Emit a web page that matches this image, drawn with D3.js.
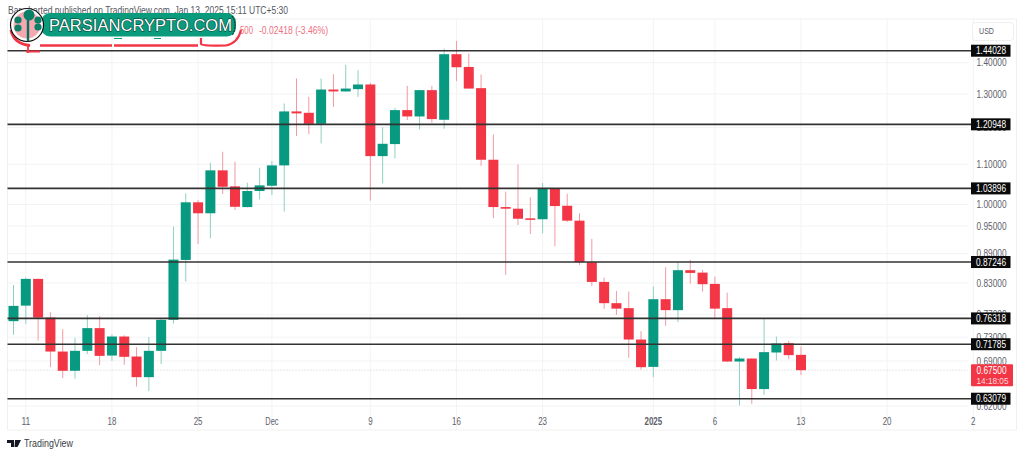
<!DOCTYPE html>
<html><head><meta charset="utf-8">
<script src="https://cdn.jsdelivr.net/npm/d3@7"></script>
<style>html,body{margin:0;padding:0;background:#fff;overflow:hidden}svg{display:block}text{font-family:"Liberation Sans",Arial,sans-serif}</style>
</head><body><svg id="c" width="1024" height="456"></svg>
<script>
// one candle per day, starting 10 Nov 2024
const opens  = [.7582,.7867,.8382,.7646,.7055,.6740,.7067,.7458,.6988,.7311,.6972,.6639,.7067,.7606,.8768,1.0052,.9794,1.0844,1.0440,.9939,1.0325,1.0455,1.0972,1.2471,1.2430,1.2110,1.3136,1.3076,1.3148,1.3294,1.1216,1.1541,1.2510,1.2323,1.3117,1.2226,1.4284,1.3859,1.3179,1.1120,.9939,.9901,.9677,.9656,1.0392,.9970,.9624,.8720,.8322,.7913,.7820,.7259,.6803,.7988,.7783,.8557,.8508,.8283,.7820,.6890,.6939,.6454,.7039,.7196,.7000];
const highs  = [.8263,.8408,.8385,.7745,.7440,.7288,.7690,.7677,.7352,.7334,.7129,.7300,.7624,.9487,1.0269,1.0107,1.1041,1.1332,1.1068,1.0530,1.0912,1.1086,1.2709,1.3485,1.2908,1.3485,1.3623,1.3927,1.3754,1.3345,1.2014,1.2576,1.3250,1.3133,1.3250,1.4476,1.4742,1.4308,1.3614,1.1809,1.0309,1.0999,1.0172,1.0523,1.0399,1.0259,.9794,.9216,.8408,.8147,.8133,.7405,.8229,.8616,.8726,.8768,.8563,.8427,.8114,.6962,.6943,.7619,.7311,.7237,.7142];
const lows   = [.7340,.7534,.7242,.6798,.6623,.6614,.7012,.6831,.6902,.6836,.6493,.6423,.6847,.7539,.8329,.9107,.9229,1.0252,.9871,.9930,1.0122,1.0227,.9831,1.1762,1.1818,1.1560,1.2605,1.3070,1.2908,1.0090,1.0515,1.1154,1.2217,1.1951,1.2139,1.1968,1.3399,1.3160,1.0962,.9677,.8461,.9525,.9325,.9341,.9057,.9594,.8664,.8243,.7806,.7696,.6951,.6761,.6639,.7498,.7565,.8289,.8133,.7619,.6880,.6207,.6232,.6366,.6907,.6929,.6671];
const closes = [.7862,.8382,.7646,.7055,.6740,.7067,.7458,.6983,.7311,.6967,.6639,.7067,.7606,.8774,1.0052,.9794,1.0844,1.0430,.9946,1.0325,1.0464,1.0972,1.2471,1.2412,1.2110,1.3136,1.3076,1.3166,1.3294,1.1216,1.1549,1.2510,1.2323,1.3117,1.2246,1.4284,1.3849,1.3166,1.1120,.9939,.9901,.9668,.9647,1.0392,.9963,.9624,.8720,.8322,.7913,.7811,.7259,.6798,.7988,.7783,.8557,.8502,.8277,.7811,.6890,.6939,.6454,.7045,.7190,.6995,.6750];
const priceTicks = [1.4,1.3,1.2,1.1,1.0,.95,.89,.83,.77,.73,.69,.62];
const levels = [1.44028,1.20948,1.03896,.87246,.76318,.71785,.63079];
const dateTicks = [[1,"11"],[8,"18"],[15,"25"],[21,"Dec"],[29,"9"],[36,"16"],[43,"23"],[52,"2025"],[57,"6"],[64,"13"],[71,"20"],[78,"2"]];
const lastPrice = .675;
const header = "Bar-charted published on TradingView.com, Jan 13, 2025 15:11 UTC+5:30";
const change = "-0.02418 (-3.46%)";
const brand = "PARSIANCRYPTO.COM";

const UP="#089981", DOWN="#f23645", UPW="#8fd0c2", DOWNW="#f29aa3";
const svg=d3.select("#c");
const x=d3.scaleLinear().domain([0,64]).range([13.5,801]);
const y=d3.scaleLog().domain([1,.62]).range([204.5,406]);
const L=7.5,R=968,T=19,B=430;
const squeeze=(s,w)=>s.attr("textLength",w).attr("lengthAdjust","spacingAndGlyphs");

svg.append("rect").attr("x",L).attr("y",T).attr("width",1016.5-L).attr("height",B-T).attr("fill","none").attr("stroke","#f0f0f0");
const g=svg.append("g").attr("stroke","#f2f3f5");
g.selectAll(".h").data(priceTicks).join("line").attr("x1",L).attr("x2",R).attr("y1",d=>y(d)).attr("y2",d=>y(d));
g.selectAll(".v").data(dateTicks).join("line").attr("x1",d=>x(d[0])).attr("x2",d=>x(d[0])).attr("y1",T).attr("y2",B);
svg.append("line").attr("x1",L).attr("x2",R).attr("y1",y(lastPrice)).attr("y2",y(lastPrice)).attr("stroke","#cfcfcf").attr("stroke-dasharray","1 2");

const idx=d3.range(opens.length);
const up=i=>closes[i]>opens[i];
const cg=svg.append("g");
cg.selectAll(".w").data(idx).join("line").attr("x1",i=>x(i)).attr("x2",i=>x(i))
  .attr("y1",i=>y(highs[i])).attr("y2",i=>y(lows[i])).attr("stroke",i=>up(i)?UPW:DOWNW).attr("stroke-width",1);
cg.selectAll(".b").data(idx).join("rect").attr("x",i=>x(i)-5).attr("width",10)
  .attr("y",i=>y(Math.max(opens[i],closes[i]))).attr("height",i=>Math.max(1.5,Math.abs(y(opens[i])-y(closes[i]))))
  .attr("fill",i=>up(i)?UP:DOWN);

svg.append("g").selectAll("line").data(levels).join("line").attr("x1",L).attr("x2",971)
  .attr("y1",d=>y(d)).attr("y2",d=>y(d)).attr("stroke","#333").attr("stroke-width",1.6);

svg.append("g").selectAll("text").data(priceTicks).join("text").attr("x",976.5).attr("y",d=>y(d)+3.6)
  .attr("font-size",10).attr("fill","#5d606b").text(d=>d3.format(".5f")(d)).call(squeeze,30);
const tag=svg.append("g").selectAll("g").data(levels).join("g").attr("transform",d=>`translate(971,${y(d)})`);
tag.append("rect").attr("x",0).attr("y",-6).attr("width",39.5).attr("height",12).attr("fill","#0a0a0a");
tag.append("text").attr("x",5).attr("y",3.6).attr("font-size",10).attr("fill","#fff").text(d=>d3.format(".5f")(d)).call(squeeze,30);
const lt=svg.append("g").attr("transform",`translate(971,${y(lastPrice)-6})`);
lt.append("rect").attr("width",42).attr("height",22).attr("rx",1).attr("fill",DOWN);
lt.append("text").attr("x",5.5).attr("y",9.5).attr("font-size",10).attr("fill","#fff").text(d3.format(".5f")(lastPrice)).call(squeeze,30);
lt.append("text").attr("x",5.5).attr("y",19.5).attr("font-size",9.6).attr("fill","#ffd9dd").text("14:18:05").call(squeeze,32);
svg.append("rect").attr("x",972.5).attr("y",22.5).attr("width",41).attr("height",18).attr("rx",3).attr("fill","#fff").attr("stroke","#eeeeee");
svg.append("text").attr("x",979).attr("y",34).attr("font-size",9.6).attr("fill","#5d606b").text("USD").call(squeeze,15);

svg.append("g").selectAll("text").data(dateTicks).join("text").attr("x",d=>x(d[0])-d[1].length*2.2).attr("y",424.5)
  .attr("font-size",10).attr("fill","#5d606b").attr("font-weight",d=>d[1]==="2025"?"bold":null).text(d=>d[1])
  .each(function(d){d3.select(this).call(squeeze,d[1].length*4.4);});

svg.append("text").attr("x",8).attr("y",13.5).attr("font-size",10.8).attr("fill","#55585f").text(header).call(squeeze,280);
svg.append("text").attr("x",259).attr("y",33.5).attr("font-size",10).attr("fill","#ec7080").text(change).call(squeeze,69);
svg.append("text").attr("x",240).attr("y",33.5).attr("font-size",10).attr("fill","#ec7080").text("500").call(squeeze,13);

// brand overlay
const b=svg.append("g");
b.append("path").attr("d","M11 30 Q14 44 30 45.5").attr("fill","none").attr("stroke",DOWN).attr("stroke-width",3);
b.append("path").attr("d","M40 45.5 H112 M114 45.5 H198").attr("fill","none").attr("stroke",DOWN).attr("stroke-width",2.6);
b.append("path").attr("d","M201 38 V44 Q202 46 226 45.5 Q238 43 241 30").attr("fill","none").attr("stroke",DOWN).attr("stroke-width",2.2);
b.append("path").attr("d","M28 45 V53 M26 51.5 H40").attr("fill","none").attr("stroke",DOWN).attr("stroke-width",1.8);
b.append("path").attr("d","M114 38.5 H122 M154 38.5 H161").attr("fill","none").attr("stroke",UP).attr("stroke-width",1.2);
b.append("rect").attr("x",41).attr("y",13).attr("width",195).attr("height",23.5).attr("rx",9).attr("fill","#0a9b7c");
b.append("path").attr("d","M232 16 Q238 25 232 36").attr("fill","none").attr("stroke","#111").attr("stroke-width",1).attr("stroke-dasharray","2 1");
b.append("circle").attr("cx",27).attr("cy",25).attr("r",16.5).attr("fill","#fff").attr("stroke","#111").attr("stroke-width",1.2);
b.append("circle").attr("cx",27).attr("cy",25).attr("r",13.5).attr("fill","#f4a9b0");
b.append("line").attr("x1",28).attr("x2",28).attr("y1",18).attr("y2",41).attr("stroke","#0a6f5b").attr("stroke-width",2.4);
[[29,15,5.5],[18,20,3.6],[38,20,3.6],[18,28,3.6],[38,27,3.6]].forEach(p=>b.append("circle").attr("cx",p[0]).attr("cy",p[1]).attr("r",p[2]).attr("fill","#0a7f68"));
b.append("text").attr("x",49).attr("y",31).attr("font-size",17).attr("fill","#fff").attr("stroke","#083a30").attr("stroke-width",1.1).attr("paint-order","stroke").text(brand).call(squeeze,183);

svg.append("path").attr("d","M7 440h7v7h-3v-4h-4z M15 440h6l-3.5 7h-3z").attr("fill","#131722");
svg.append("text").attr("x",24).attr("y",447).attr("font-size",10).attr("fill","#3a3d45").text("TradingView").call(squeeze,49);
</script></body></html>
